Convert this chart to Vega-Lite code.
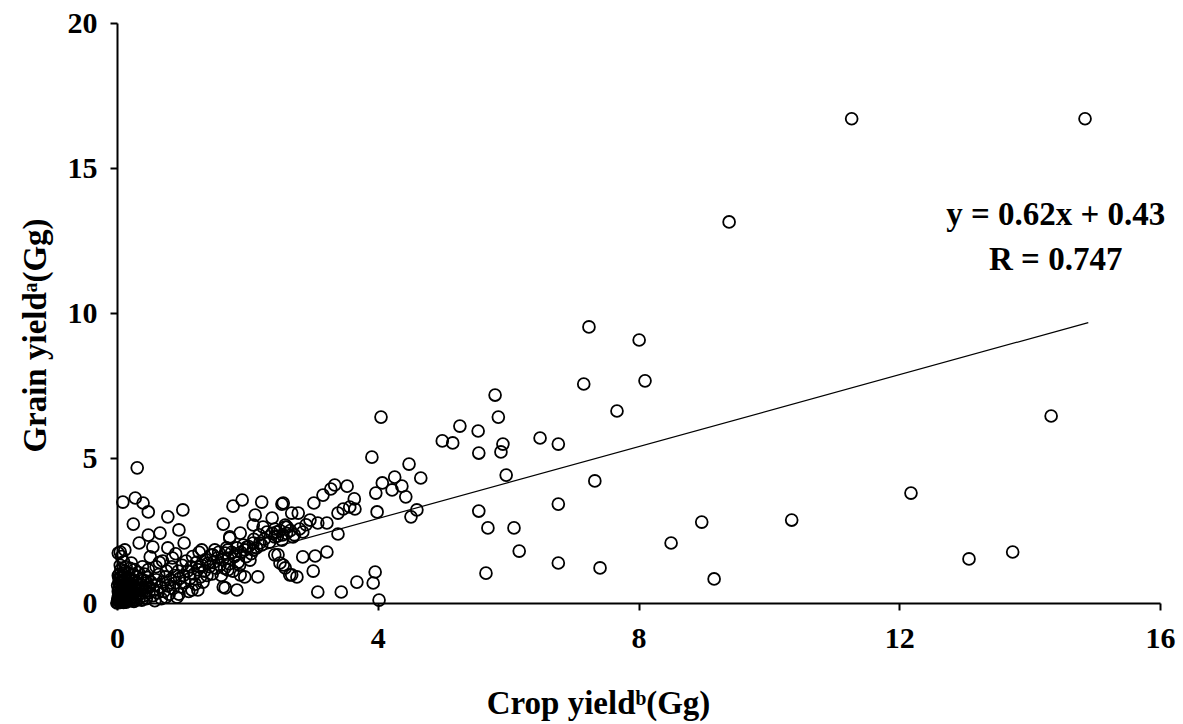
{
  "$schema": "https://vega.github.io/schema/vega-lite/v6.json",
  "autosize": "none",
  "width": 1043,
  "height": 580,
  "padding": {"left": 117, "top": 23, "right": 23, "bottom": 121},
  "background": "white",
  "config": {
    "view": {"stroke": null},
    "font": "Liberation Serif",
    "axis": {
      "grid": false,
      "domainColor": "black",
      "domainWidth": 2,
      "tickColor": "black",
      "tickWidth": 2,
      "tickSize": 7,
      "labelFont": "Liberation Serif",
      "labelFontWeight": "bold",
      "labelFontSize": 30,
      "labelColor": "black",
      "labelPadding": 13,
      "labelFlush": false,
      "labelOverlap": false,
      "format": "d",
      "titleFont": "Liberation Serif",
      "titleFontWeight": "bold",
      "titleFontSize": 33,
      "titleColor": "black"
    }
  },
  "datasets": {
    "pts": [
      {"x":14.85,"y":16.7},{"x":11.27,"y":16.7},{"x":9.39,"y":13.14},{"x":14.33,"y":6.45},{"x":12.18,"y":3.79},{"x":13.74,"y":1.76},{"x":13.07,"y":1.52},{"x":10.35,"y":2.86},{"x":8.97,"y":2.79},{"x":9.16,"y":0.83},{"x":8.5,"y":2.07},
      {"x":7.24,"y":9.52},{"x":8.01,"y":9.07},{"x":8.1,"y":7.66},{"x":7.67,"y":6.62},{"x":7.16,"y":7.55},{"x":6.77,"y":5.48},{"x":6.49,"y":5.69},{"x":7.33,"y":4.21},{"x":6.77,"y":3.41},{"x":7.41,"y":1.21},{"x":6.77,"y":1.38},
      {"x":5.8,"y":7.17},{"x":5.85,"y":6.41},{"x":5.26,"y":6.1},{"x":5.54,"y":5.93},{"x":5.55,"y":5.17},{"x":5.92,"y":5.48},{"x":5.89,"y":5.21},{"x":5.97,"y":4.41},{"x":5.55,"y":3.17},{"x":5.69,"y":2.59},{"x":6.09,"y":2.59},{"x":6.17,"y":1.79},{"x":5.66,"y":1.03},
      {"x":4.05,"y":6.41},{"x":4.99,"y":5.59},{"x":5.15,"y":5.52},{"x":3.91,"y":5.03},{"x":4.48,"y":4.79},{"x":4.66,"y":4.31},{"x":4.26,"y":4.34},{"x":4.07,"y":4.14},{"x":4.37,"y":4.03},{"x":4.22,"y":3.9},{"x":3.97,"y":3.79},{"x":4.43,"y":3.66},{"x":3.53,"y":4.03},{"x":3.34,"y":4.07},{"x":3.28,"y":3.93},{"x":3.16,"y":3.72},{"x":3.02,"y":3.45},{"x":3.64,"y":3.59},{"x":3.65,"y":3.24},{"x":3.57,"y":3.31},{"x":3.47,"y":3.24},{"x":3.39,"y":3.1},{"x":3.99,"y":3.14},{"x":4.6,"y":3.21},{"x":4.51,"y":2.97},
      {"x":2.55,"y":3.45},{"x":2.78,"y":3.1},{"x":3.08,"y":2.76},{"x":3.22,"y":2.76},{"x":2.96,"y":2.86},{"x":2.61,"y":2.62},{"x":2.85,"y":2.45},{"x":2.7,"y":2.28},{"x":3.39,"y":2.38},{"x":3.22,"y":1.76},{"x":2.85,"y":1.59},{"x":3.04,"y":1.62},{"x":3.01,"y":1.1},{"x":2.55,"y":1.31},{"x":2.65,"y":0.97},{"x":2.76,"y":0.9},{"x":3.96,"y":1.07},{"x":3.93,"y":0.69},{"x":3.68,"y":0.72},{"x":3.08,"y":0.38},{"x":3.44,"y":0.38},{"x":4.02,"y":0.1},
      {"x":0.31,"y":4.66},{"x":0.09,"y":3.48},{"x":0.28,"y":3.62},{"x":0.4,"y":3.45},{"x":0.48,"y":3.14},{"x":0.25,"y":2.72},{"x":0.78,"y":2.97},{"x":1.01,"y":3.21},{"x":0.95,"y":2.52},{"x":1.03,"y":2.07},{"x":0.66,"y":2.41},{"x":0.48,"y":2.34},{"x":0.34,"y":2.07},{"x":0.55,"y":1.93},{"x":0.78,"y":1.9},{"x":0.51,"y":1.59},{"x":0.12,"y":1.83},{"x":0.02,"y":1.72},{"x":0.05,"y":1.76},
      {"x":1.78,"y":3.34},{"x":1.92,"y":3.55},{"x":2.22,"y":3.48},{"x":2.53,"y":3.41},{"x":1.63,"y":2.72},{"x":2.12,"y":3.03},{"x":2.38,"y":2.93},{"x":2.58,"y":2.62},{"x":2.45,"y":2.45},{"x":1.73,"y":2.28},{"x":1.89,"y":2.41},{"x":1.7,"y":1.83},{"x":1.99,"y":1.93},{"x":2.19,"y":2.07},{"x":2.47,"y":1.66},{"x":2.16,"y":0.9},{"x":1.84,"y":0.45},{"x":1.66,"y":0.52},{"x":1.27,"y":1.24},{"x":1.47,"y":1.66},{"x":1.5,"y":1.83},{"x":1.15,"y":0.45},
      {"x":2.68,"y":3.1},{"x":2.09,"y":2.69},{"x":2.24,"y":2.62},{"x":2.58,"y":2.69},{"x":1.73,"y":2.24},{"x":2.42,"y":2.28},{"x":2.53,"y":2.17},{"x":2.09,"y":2.07},{"x":1.96,"y":1.83},{"x":2.09,"y":1.83},{"x":2.42,"y":1.66},{"x":2.5,"y":1.38},{"x":2.58,"y":1.21},{"x":2.68,"y":0.97},{"x":1.3,"y":1.83},{"x":1.66,"y":1.72},{"x":1.81,"y":1.66},{"x":1.86,"y":1.41},{"x":2.04,"y":1.48},{"x":1.96,"y":0.9},{"x":1.89,"y":0.97},{"x":1.7,"y":1.14},{"x":1.63,"y":0.55},{"x":1.32,"y":0.72},{"x":1.24,"y":0.45},{"x":1.4,"y":1.38},
      {"x":0.01,"y":0.02},{"x":0.02,"y":0.1},{"x":0.03,"y":0.25},{"x":0.02,"y":0.4},{"x":0.04,"y":0.55},{"x":0.03,"y":0.7},{"x":0.05,"y":0.85},{"x":0.04,"y":1.0},{"x":0.06,"y":1.15},{"x":0.05,"y":1.3},
      {"x":0.07,"y":0.05},{"x":0.08,"y":0.18},{"x":0.09,"y":0.33},{"x":0.08,"y":0.5},{"x":0.1,"y":0.62},{"x":0.09,"y":0.78},{"x":0.11,"y":0.95},{"x":0.12,"y":1.1},{"x":0.1,"y":1.42},{"x":0.13,"y":0.08},
      {"x":0.14,"y":0.22},{"x":0.15,"y":0.4},{"x":0.16,"y":0.55},{"x":0.15,"y":0.7},{"x":0.17,"y":0.88},{"x":0.18,"y":1.02},{"x":0.19,"y":0.12},{"x":0.2,"y":0.3},{"x":0.21,"y":0.48},{"x":0.22,"y":0.65},
      {"x":0.23,"y":0.8},{"x":0.24,"y":0.97},{"x":0.26,"y":0.05},{"x":0.27,"y":0.2},{"x":0.28,"y":0.37},{"x":0.29,"y":0.55},{"x":0.3,"y":0.72},{"x":0.31,"y":0.9},{"x":0.33,"y":1.05},{"x":0.34,"y":0.15},
      {"x":0.35,"y":0.3},{"x":0.37,"y":0.45},{"x":0.38,"y":0.62},{"x":0.4,"y":0.78},{"x":0.41,"y":0.25},{"x":0.43,"y":0.4},{"x":0.44,"y":0.55},{"x":0.46,"y":0.7},{"x":0.47,"y":0.88},{"x":0.49,"y":0.35},
      {"x":0.02,"y":0.15},{"x":0.06,"y":0.3},{"x":0.12,"y":0.27},{"x":0.18,"y":0.6},{"x":0.25,"y":0.42},{"x":0.32,"y":0.28},{"x":0.36,"y":0.82},{"x":0.42,"y":1.0},{"x":0.48,"y":1.15},{"x":0.2,"y":1.2},
      {"x":0.14,"y":1.25},{"x":0.27,"y":1.15},{"x":0.01,"y":0.6},{"x":0.03,"y":0.85},{"x":0.07,"y":1.6},{"x":0.22,"y":1.38},{"x":0.39,"y":1.25},{"x":0.45,"y":0.15},{"x":0.5,"y":0.55},{"x":0.52,"y":0.72},
      {"x":0.0,"y":0.0},{"x":0.01,"y":0.08},{"x":0.02,"y":0.2},{"x":0.04,"y":0.12},{"x":0.05,"y":0.02},{"x":0.06,"y":0.22},{"x":0.08,"y":0.1},{"x":0.1,"y":0.02},{"x":0.11,"y":0.16},{"x":0.12,"y":0.4},
      {"x":0.14,"y":0.03},{"x":0.16,"y":0.15},{"x":0.17,"y":0.32},{"x":0.2,"y":0.08},{"x":0.22,"y":0.2},{"x":0.24,"y":0.1},{"x":0.06,"y":0.45},{"x":0.03,"y":0.48},{"x":0.13,"y":0.5},{"x":0.19,"y":0.45},
      {"x":0.09,"y":0.68},{"x":0.13,"y":0.82},{"x":0.02,"y":0.95},{"x":0.07,"y":0.92},{"x":0.26,"y":0.6},{"x":0.3,"y":0.45},{"x":0.33,"y":0.6},{"x":0.29,"y":0.1},{"x":0.38,"y":0.1},{"x":0.4,"y":0.5},
      {"x":0.55,"y":0.25},{"x":0.56,"y":0.45},{"x":0.58,"y":0.62},{"x":0.6,"y":0.8},{"x":0.62,"y":0.35},{"x":0.64,"y":0.98},{"x":0.66,"y":0.55},{"x":0.68,"y":0.15},{"x":0.7,"y":0.72},{"x":0.72,"y":0.4},
      {"x":0.74,"y":0.9},{"x":0.76,"y":1.1},{"x":0.78,"y":0.6},{"x":0.8,"y":0.3},{"x":0.82,"y":0.8},{"x":0.84,"y":1.25},{"x":0.86,"y":0.5},{"x":0.88,"y":0.95},{"x":0.9,"y":0.7},{"x":0.92,"y":0.2},
      {"x":0.94,"y":1.1},{"x":0.96,"y":0.85},{"x":0.98,"y":0.55},{"x":1.0,"y":1.3},{"x":1.02,"y":0.95},{"x":1.04,"y":0.7},{"x":1.06,"y":1.45},{"x":1.08,"y":1.1},{"x":1.1,"y":0.4},{"x":1.12,"y":0.85},
      {"x":1.14,"y":1.25},{"x":1.16,"y":1.6},{"x":1.18,"y":1.0},{"x":1.2,"y":0.65},{"x":1.22,"y":1.4},{"x":1.24,"y":1.15},{"x":1.26,"y":1.75},{"x":1.28,"y":0.9},{"x":1.3,"y":1.3},{"x":0.6,"y":1.25},
      {"x":0.7,"y":1.45},{"x":0.85,"y":1.55},{"x":0.58,"y":0.08},{"x":0.75,"y":0.2},{"x":0.95,"y":0.3},{"x":0.65,"y":1.4},{"x":0.9,"y":1.7},
      {"x":1.34,"y":1.1},{"x":1.36,"y":1.5},{"x":1.38,"y":0.95},{"x":1.42,"y":1.25},{"x":1.44,"y":1.65},{"x":1.46,"y":1.0},{"x":1.48,"y":1.4},{"x":1.52,"y":1.2},{"x":1.54,"y":1.55},{"x":1.56,"y":1.75},
      {"x":1.58,"y":1.3},{"x":1.6,"y":0.95},{"x":1.62,"y":1.5},{"x":1.65,"y":1.2},{"x":1.68,"y":1.9},{"x":1.7,"y":1.55},{"x":1.72,"y":1.35},{"x":1.76,"y":1.75},{"x":1.78,"y":1.1},{"x":1.8,"y":1.6},
      {"x":1.84,"y":1.9},{"x":1.88,"y":1.3},{"x":1.9,"y":1.75},{"x":1.94,"y":2.0},{"x":1.98,"y":1.6},{"x":2.02,"y":1.95},{"x":2.06,"y":1.7},{"x":2.1,"y":2.2},{"x":2.14,"y":1.9},{"x":2.18,"y":2.35},
      {"x":2.22,"y":2.0},{"x":2.26,"y":2.2},{"x":2.3,"y":2.45},{"x":2.34,"y":2.1},{"x":2.38,"y":2.4},{"x":2.42,"y":2.55},{"x":2.46,"y":2.3},{"x":2.5,"y":2.5},{"x":2.54,"y":2.35},{"x":2.6,"y":2.4},
      {"x":2.66,"y":2.5},{"x":2.72,"y":2.35},{"x":2.8,"y":2.55},{"x":2.9,"y":2.7}
    ],
    "fit": [{"x":0,"y":0.43},{"x":14.9,"y":9.67}],
    "notes": [{"x":14.4,"y":13.38,"label":"y = 0.62x + 0.43"},{"x":14.4,"y":11.83,"label":"R = 0.747"}]
  },
  "layer": [
    {
      "data": {"name": "pts"},
      "mark": {"type": "point", "shape": "circle", "filled": false, "color": "black", "strokeWidth": 1.8, "size": 140, "opacity": 1},
      "encoding": {
        "x": {"field": "x", "type": "quantitative", "scale": {"domain": [0, 16], "nice": false, "zero": true},
              "axis": {"values": [0, 4, 8, 12, 16], "title": "Crop yieldᵇ(Gg)", "titleX": 481, "titleY": 110, "titleBaseline": "alphabetic"}},
        "y": {"field": "y", "type": "quantitative", "scale": {"domain": [0, 20], "nice": false},
              "axis": {"values": [0, 5, 10, 15, 20], "title": "Grain yieldᵃ(Gg)", "titleX": -72, "titleY": 312, "titleAngle": -90, "titleBaseline": "alphabetic", "titleAlign": "center"}}
      }
    },
    {
      "data": {"name": "fit"},
      "mark": {"type": "line", "color": "black", "strokeWidth": 1.2},
      "encoding": {
        "x": {"field": "x", "type": "quantitative"},
        "y": {"field": "y", "type": "quantitative"}
      }
    },
    {
      "data": {"name": "notes"},
      "mark": {"type": "text", "font": "Liberation Serif", "fontWeight": "bold", "fontSize": 33, "color": "black", "align": "center", "baseline": "middle"},
      "encoding": {
        "x": {"field": "x", "type": "quantitative"},
        "y": {"field": "y", "type": "quantitative"},
        "text": {"field": "label"}
      }
    }
  ]
}
